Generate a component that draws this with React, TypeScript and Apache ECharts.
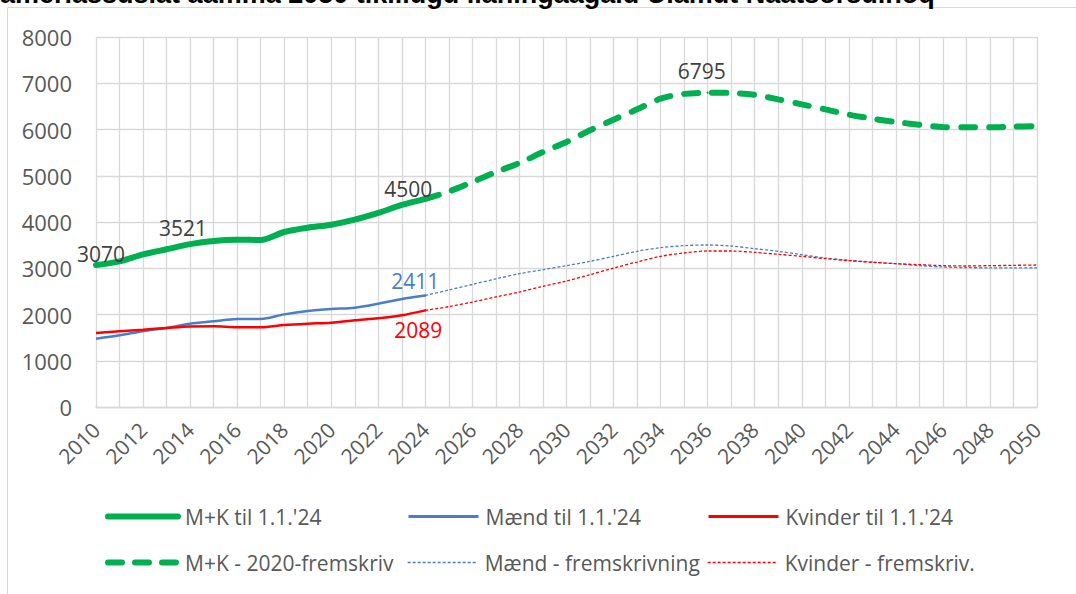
import React, { useEffect, useRef } from "react";
import * as echarts from "echarts";

const years = [
  "2010", "2011", "2012", "2013", "2014", "2015", "2016", "2017", "2018", "2019",
  "2020", "2021", "2022", "2023", "2024", "2025", "2026", "2027", "2028", "2029",
  "2030", "2031", "2032", "2033", "2034", "2035", "2036", "2037", "2038", "2039",
  "2040", "2041", "2042", "2043", "2044", "2045", "2046", "2047", "2048", "2049", "2050",
];

// 2010-2024
const mkActual = [3070, 3150, 3300, 3410, 3521, 3590, 3615, 3612, 3784, 3877, 3942, 4050, 4195, 4368, 4500];
const maendActual = [1477, 1550, 1640, 1708, 1800, 1852, 1905, 1905, 2003, 2075, 2119, 2148, 2234, 2335, 2411];
const kvinderActual = [1600, 1636, 1672, 1708, 1740, 1744, 1725, 1725, 1773, 1802, 1823, 1874, 1917, 1982, 2089];

// 2024-2050
const mkProj = [4500, 4660, 4865, 5080, 5276, 5513, 5730, 5982, 6213, 6436, 6667, 6770, 6795, 6790, 6750, 6652, 6544, 6436, 6321, 6234, 6162, 6104, 6054, 6047, 6047, 6061, 6076];
const maendProj = [2411, 2530, 2650, 2770, 2883, 2969, 3056, 3150, 3258, 3366, 3445, 3488, 3503, 3481, 3423, 3366, 3294, 3222, 3171, 3135, 3099, 3056, 3027, 3013, 3010, 3010, 3010];
const kvinderProj = [2089, 2170, 2270, 2380, 2486, 2609, 2724, 2861, 3005, 3135, 3258, 3330, 3373, 3373, 3344, 3301, 3258, 3207, 3164, 3128, 3099, 3077, 3056, 3049, 3056, 3063, 3070];

const names = [
  "M+K til 1.1.'24",
  "Mænd til 1.1.'24",
  "Kvinder til 1.1.'24",
  "M+K - 2020-fremskriv",
  "Mænd - fremskrivning",
  "Kvinder - fremskriv.",
];

const titleText = "amerlassusiat aamma 2050 tikillugu ilaningaagaid Uiamut Naatsorsuinoq";

const FONT = "'Open Sans', sans-serif";
const GREEN = "#00B050";
const BLUE = "#4A7EC7";
const RED = "#FF0000";

export default function App() {
  const ref = useRef<HTMLDivElement>(null);

  useEffect(() => {
    if (!ref.current) return;
    const chart = echarts.init(ref.current, null, { renderer: "svg" });

    const nActual = mkActual.length;
    const padAfter = (arr: number[]) => [...arr, ...new Array(years.length - arr.length).fill(null)];
    const padBefore = (arr: number[]) => [...new Array(years.length - arr.length).fill(null), ...arr];

    const labelled = (v: number, color: string, lineColor: string, position: string, offset: number[]) => ({
      value: v,
      symbol: "circle",
      symbolSize: 2,
      itemStyle: { color: lineColor },
      label: {
        show: true,
        position,
        offset,
        distance: 4,
        color,
        fontSize: 21,
        fontFamily: FONT,
        formatter: "{c}",
      },
    });

    const mkData = padAfter(mkActual).map((v, i) => {
      if (i === 0) return labelled(v, "#404040", GREEN, "top", [5, 4]);
      if (i === 4) return labelled(v, "#404040", GREEN, "top", [-7, -1]);
      if (i === nActual - 1) return labelled(v, "#404040", GREEN, "top", [-17, 6]);
      return v;
    });
    const maendData = padAfter(maendActual).map((v, i) =>
      i === nActual - 1 ? labelled(v, BLUE, BLUE, "top", [-10, 1]) : v
    );
    const kvinderData = padAfter(kvinderActual).map((v, i) =>
      i === nActual - 1 ? labelled(v, RED, RED, "bottom", [-7, 4]) : v
    );
    const mkProjFull = padBefore(mkProj);
    const peakIdx = mkProjFull.indexOf(Math.max(...mkProj));
    const mkProjData = mkProjFull.map((v, i) =>
      i === peakIdx ? labelled(v, "#404040", GREEN, "top", [-6, -6]) : v
    );

    const legendPos = [
      { left: 105, top: 506 },
      { left: 407, top: 506 },
      { left: 707, top: 506 },
      { left: 105, top: 552 },
      { left: 407, top: 552 },
      { left: 707, top: 552 },
    ];
    const legendLines = [
      { width: 6, type: "solid", cap: "round" },
      { width: 3, type: "solid", cap: "butt" },
      { width: 3, type: "solid", cap: "butt" },
      { width: 6, type: [14, 13], cap: "round" },
      { width: 1.3, type: [3, 2], cap: "butt" },
      { width: 1.3, type: [3, 2], cap: "butt" },
    ];

    const option = {
      animation: false,
      backgroundColor: "#ffffff",
      graphic: [
        {
          type: "rect",
          shape: { x: 7.5, y: 7.5, width: 1200, height: 700 },
          style: { fill: "none", stroke: "#D9D9D9", lineWidth: 1 },
          silent: true,
        },
        {
          type: "text",
          x: 0,
          y: 7,
          style: {
            text: titleText,
            font: "bold 27px 'Liberation Sans', Arial, sans-serif",
            fill: "#000000",
            verticalAlign: "bottom",
          },
        },
      ],
      grid: { left: 96, right: 39, top: 37, bottom: 187, containLabel: false },
      legend: names.map((n, i) => ({
        data: [n],
        left: legendPos[i].left,
        top: legendPos[i].top,
        padding: 0,
        itemWidth: 70,
        itemHeight: 22,
        itemGap: 0,
        itemStyle: { opacity: 0 },
        lineStyle: legendLines[i],
        textStyle: { fontSize: 21, color: "#595959", fontFamily: FONT, padding: [0, 0, 0, 2] },
        selectedMode: false,
      })),
      xAxis: {
        type: "category",
        data: years,
        boundaryGap: false,
        axisLine: { show: true, lineStyle: { color: "#D9D9D9", width: 1.3 } },
        axisTick: { show: false },
        axisLabel: {
          interval: 1,
          rotate: 45,
          margin: 19,
          fontSize: 21,
          color: "#595959",
          fontFamily: FONT,
        },
        splitLine: { show: true, interval: 0, lineStyle: { color: "#D9D9D9", width: 1.3 } },
      },
      yAxis: {
        type: "value",
        min: 0,
        max: 8000,
        interval: 1000,
        axisLine: { show: false },
        axisTick: { show: false },
        axisLabel: {
          fontSize: 22,
          color: "#595959",
          fontFamily: FONT,
          margin: 24,
          formatter: (v: number) => String(v),
        },
        splitLine: { show: true, lineStyle: { color: "#D9D9D9", width: 1.3 } },
      },
      series: [
        {
          name: names[0],
          type: "line",
          data: mkData,
          smooth: 0.3,
          symbol: "none",
          lineStyle: { color: GREEN, width: 6, cap: "round" },
          itemStyle: { color: GREEN },
          z: 5,
        },
        {
          name: names[1],
          type: "line",
          data: maendData,
          smooth: 0.3,
          symbol: "none",
          lineStyle: { color: BLUE, width: 2.5 },
          itemStyle: { color: BLUE },
          z: 4,
        },
        {
          name: names[2],
          type: "line",
          data: kvinderData,
          smooth: 0.3,
          symbol: "none",
          lineStyle: { color: RED, width: 2.5 },
          itemStyle: { color: RED },
          z: 4,
        },
        {
          name: names[3],
          type: "line",
          data: mkProjData,
          smooth: 0.3,
          symbol: "none",
          lineStyle: { color: GREEN, width: 6, type: [14, 14], cap: "round" },
          itemStyle: { color: GREEN },
          z: 5,
        },
        {
          name: names[4],
          type: "line",
          data: padBefore(maendProj),
          smooth: 0.3,
          symbol: "none",
          lineStyle: { color: BLUE, width: 1.3, type: [3, 2] },
          itemStyle: { color: BLUE },
          z: 3,
        },
        {
          name: names[5],
          type: "line",
          data: padBefore(kvinderProj),
          smooth: 0.3,
          symbol: "none",
          lineStyle: { color: RED, width: 1.3, type: [3, 2] },
          itemStyle: { color: RED },
          z: 3,
        },
      ],
    };

    chart.setOption(option as any);
    return () => chart.dispose();
  }, []);

  return (
    <div
      ref={ref}
      style={{ position: "absolute", left: 0, top: 0, width: 1076, height: 594, background: "#fff" }}
    />
  );
}
